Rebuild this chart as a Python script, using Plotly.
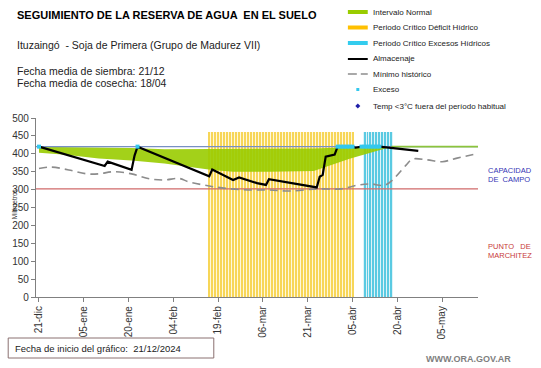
import plotly.graph_objects as go
import pandas as pd

# ---------------- data ----------------
ALM_FECHAS = ["2024-12-21", "2025-01-12", "2025-01-13", "2025-01-21", "2025-01-22", "2025-01-23",
              "2025-02-16", "2025-02-17", "2025-02-24", "2025-02-26", "2025-03-04", "2025-03-07",
              "2025-03-08", "2025-03-24", "2025-03-25", "2025-03-26", "2025-03-27", "2025-03-30",
              "2025-03-31", "2025-04-05", "2025-04-06", "2025-04-07", "2025-04-08", "2025-04-14",
              "2025-04-27"]
ALM_VALORES = [420, 366, 378, 355, 395, 420,
               337, 356, 327, 334, 318, 313,
               329, 306, 336, 341, 392, 398,
               420, 420, 417, 418, 420, 420,
               408]

MIN_FECHAS = ["2024-12-21", "2024-12-25", "2024-12-31", "2025-01-06", "2025-01-10", "2025-01-15",
              "2025-01-21", "2025-01-27", "2025-02-01", "2025-02-06", "2025-02-09", "2025-02-16",
              "2025-02-22", "2025-03-01", "2025-03-08", "2025-03-15", "2025-03-24", "2025-04-01",
              "2025-04-07", "2025-04-11", "2025-04-16", "2025-04-23", "2025-04-25", "2025-04-30",
              "2025-05-05", "2025-05-10", "2025-05-17"]
MIN_VALORES = [359, 363, 355, 344, 344, 350,
               344, 330, 327, 331, 322, 310,
               303, 299, 299, 296, 302, 302,
               313, 316, 313, 369, 385, 383,
               378, 388, 401]

BANDA_FECHAS = ["2024-12-21", "2024-12-30", "2025-01-10", "2025-01-21", "2025-02-01", "2025-02-13",
                "2025-02-17", "2025-02-24", "2025-03-08", "2025-03-23", "2025-04-04", "2025-04-18",
                "2025-05-17"]
BANDA_SUP = [420, 419, 418, 416, 413, 413, 413, 413, 414, 415, 418, 420, 420]
BANDA_INF = [403, 397, 387, 381, 373, 359, 355, 350, 350, 352, 386, 420, 420]

EXCESO_FECHAS = ["2024-12-21", "2025-01-23",
                 "2025-03-31", "2025-04-01", "2025-04-02", "2025-04-03", "2025-04-04", "2025-04-05",
                 "2025-04-08", "2025-04-09", "2025-04-10", "2025-04-11", "2025-04-12", "2025-04-13",
                 "2025-04-14"]
EXCESO_VALORES = [420] * len(EXCESO_FECHAS)

DEFICIT_INICIO, DEFICIT_FIN = "2025-02-16", "2025-04-05"
EXCESOS_INICIO, EXCESOS_FIN = "2025-04-09", "2025-04-18"
PERIODO_ALTURA = 460

CAPACIDAD_CAMPO = 420
PUNTO_MARCHITEZ = 302

X_RANGO = ["2024-12-20", "2025-05-17"]
TICK_FECHAS = ["2024-12-21", "2025-01-05", "2025-01-20", "2025-02-04", "2025-02-19",
               "2025-03-06", "2025-03-21", "2025-04-05", "2025-04-20", "2025-05-05"]
TICK_TEXTO = ["21-dic", "05-ene", "20-ene", "04-feb", "19-feb",
              "06-mar", "21-mar", "05-abr", "20-abr", "05-may"]
Y_TICKS = [0, 50, 100, 150, 200, 250, 300, 350, 400, 450, 500]

LEYENDA = ["Intervalo Normal", "Periodo Crítico Déficit Hídrico", "Periodo Crítico Excesos Hídricos",
           "Almacenaje", "Mínimo histórico", "Exceso", "Temp <3°C fuera del período habitual"]

# ---------------- styling ----------------
FONT = "Liberation Sans, Arial, sans-serif"
VERDE = "#99CC00"
DAY = 86400000

W, H = 541, 368
L, R, T, B = 33, 63, 118, 71
PW, PH = W - L - R, H - T - B


def px(x):
    return (x - L) / PW


def py(y):
    return (H - B - y) / PH


fig = go.Figure()

# critical period bars
def_dias = pd.date_range(DEFICIT_INICIO, DEFICIT_FIN, freq="D")
exc_dias = pd.date_range(EXCESOS_INICIO, EXCESOS_FIN, freq="D")
for dias, pale, dark in [(def_dias, "#FFF8DA", "#F7D658"), (exc_dias, "#DDF3F8", "#5ACAE2")]:
    fig.add_trace(go.Bar(x=dias, y=[PERIODO_ALTURA] * len(dias), width=DAY * 1.0,
                         marker=dict(color=pale, line=dict(width=0)), showlegend=False, hoverinfo="skip"))
    fig.add_trace(go.Bar(x=dias, y=[PERIODO_ALTURA] * len(dias), width=DAY * 0.33,
                         marker=dict(color=dark, line=dict(width=0)), showlegend=False, hoverinfo="skip"))

# green normal interval band
fig.add_trace(go.Scatter(x=BANDA_FECHAS + BANDA_FECHAS[::-1], y=BANDA_SUP + BANDA_INF[::-1],
                         fill="toself", fillcolor="rgba(153,204,0,0.9)", line=dict(width=0),
                         mode="lines", showlegend=False, hoverinfo="skip"))

# reference lines
fig.add_trace(go.Scatter(x=X_RANGO, y=[PUNTO_MARCHITEZ] * 2, mode="lines",
                         line=dict(color="#D06A6A", width=1.2), showlegend=False, hoverinfo="skip"))
fig.add_trace(go.Scatter(x=X_RANGO, y=[CAPACIDAD_CAMPO] * 2, mode="lines",
                         line=dict(color="#7890C4", width=1.2), showlegend=False, hoverinfo="skip"))
cerr = [i for i in range(len(BANDA_FECHAS)) if BANDA_SUP[i] == BANDA_INF[i]]
fig.add_trace(go.Scatter(x=[BANDA_FECHAS[i] for i in cerr] + [X_RANGO[1]],
                         y=[BANDA_SUP[i] for i in cerr] + [BANDA_SUP[cerr[-1]]], mode="lines",
                         line=dict(color="#8CC43C", width=1.6), showlegend=False, hoverinfo="skip"))

# minimum historic
fig.add_trace(go.Scatter(x=MIN_FECHAS, y=MIN_VALORES, mode="lines", line_shape="spline",
                         line=dict(color="#8C8C8C", width=1.6, dash="8px,5px"),
                         showlegend=False, hoverinfo="skip"))
# storage
fig.add_trace(go.Scatter(x=ALM_FECHAS, y=ALM_VALORES, mode="lines",
                         line=dict(color="#000000", width=2.2), showlegend=False, hoverinfo="skip"))
# excess markers
fig.add_trace(go.Scatter(x=EXCESO_FECHAS, y=EXCESO_VALORES, mode="markers",
                         marker=dict(color="#33C8EE", size=4, symbol="square"),
                         showlegend=False, hoverinfo="skip"))

annotations = []
shapes = []


def text(x, y, s, size, color="#000000", bold=False, anchor="left", angle=0):
    annotations.append(dict(x=px(x), y=py(y), xref="paper", yref="paper", text=("<b>%s</b>" % s) if bold else s,
                            showarrow=False, xanchor=anchor, yanchor="middle", textangle=angle,
                            font=dict(family=FONT, size=size, color=color)))


text(12, 15, "SEGUIMIENTO DE LA RESERVA DE AGUA  EN EL SUELO", 11, bold=True)
text(12, 45, "Ituzaingó  - Soja de Primera (Grupo de Madurez VII)", 10.5, color="#222222")
text(12, 71, "Fecha media de siembra: 21/12", 10.5, color="#222222")
text(12, 83, "Fecha media de cosecha: 18/04", 10.5, color="#222222")

text(486, 170, "CAPACIDAD", 7.5, color="#3535B5")
text(486, 179, "DE  CAMPO", 7.5, color="#3535B5")
text(486, 246, "PUNTO   DE", 7.5, color="#C83A3A")
text(486, 255, "MARCHITEZ", 7.5, color="#C83A3A")

text(11, 204, "Milímetros", 6.5, color="#333333", anchor="center", angle=-90)

text(424, 359, "WWW.ORA.GOV.AR", 9, color="#7F7F7F", bold=True)

# start date box
shapes.append(dict(type="rect", xref="paper", yref="paper", x0=px(5), x1=px(212), y0=py(338), y1=py(358),
                   line=dict(color="#8A7070", width=1), fillcolor="rgba(0,0,0,0)"))
text(10, 348, "Fecha de inicio del gráfico:  21/12/2024", 9.5, color="#222222")

# legend
rows = [12, 27.5, 43, 59, 74, 89.5, 106]
sx0, sx1, tx = 347, 367, 370
for i, lab in enumerate(LEYENDA):
    text(tx, rows[i], lab, 8, color="#222222")
for i, col in enumerate([VERDE, "#FFC000", "#33CCEE"]):
    shapes.append(dict(type="rect", xref="paper", yref="paper", x0=px(sx0), x1=px(sx1),
                       y0=py(rows[i] + 2), y1=py(rows[i] - 2), line=dict(width=0), fillcolor=col))
shapes.append(dict(type="line", xref="paper", yref="paper", x0=px(sx0), x1=px(sx1),
                   y0=py(rows[3]), y1=py(rows[3]), line=dict(color="#000000", width=2)))
shapes.append(dict(type="line", xref="paper", yref="paper", x0=px(sx0), x1=px(sx0 + 9),
                   y0=py(rows[4]), y1=py(rows[4]), line=dict(color="#8C8C8C", width=1.5)))
shapes.append(dict(type="line", xref="paper", yref="paper", x0=px(sx0 + 13), x1=px(sx1),
                   y0=py(rows[4]), y1=py(rows[4]), line=dict(color="#8C8C8C", width=1.5)))
shapes.append(dict(type="rect", xref="paper", yref="paper", x0=px(355.5), x1=px(358.5),
                   y0=py(rows[5] + 1.5), y1=py(rows[5] - 1.5), line=dict(width=0), fillcolor="#33C8EE"))
cx, cy, d = px(357), py(rows[6]), 2.5
shapes.append(dict(type="path", xref="paper", yref="paper",
                   path="M %f,%f L %f,%f L %f,%f L %f,%f Z" % (cx, py(rows[6] - d), px(357 + d), cy,
                                                             cx, py(rows[6] + d), px(357 - d), cy),
                   line=dict(width=0), fillcolor="#1F1FA8"))

fig.update_layout(
    width=W, height=H, autosize=False,
    margin=dict(l=L, r=R, t=T, b=B, pad=0),
    paper_bgcolor="white", plot_bgcolor="white",
    barmode="overlay", bargap=0,
    showlegend=False,
    annotations=annotations, shapes=shapes,
    font=dict(family=FONT, color="#333333"),
    xaxis=dict(type="date", range=X_RANGO, tickmode="array", tickvals=TICK_FECHAS, ticktext=TICK_TEXTO,
               tickangle=-90, ticks="outside", ticklen=4, tickcolor="#808080", showline=True,
               linecolor="#808080", linewidth=1.2, showgrid=False, zeroline=False,
               tickfont=dict(family=FONT, size=10, color="#333333")),
    yaxis=dict(range=[0, 500], tickmode="array", tickvals=Y_TICKS, ticks="outside", ticklen=4,
               tickcolor="#808080", showline=True, linecolor="#808080", linewidth=1.2, showgrid=False,
               zeroline=False, tickfont=dict(family=FONT, size=10, color="#333333")),
)

fig.write_html("out.html", config={"displayModeBar": False},
               post_script="document.body.style.margin='0px';")
